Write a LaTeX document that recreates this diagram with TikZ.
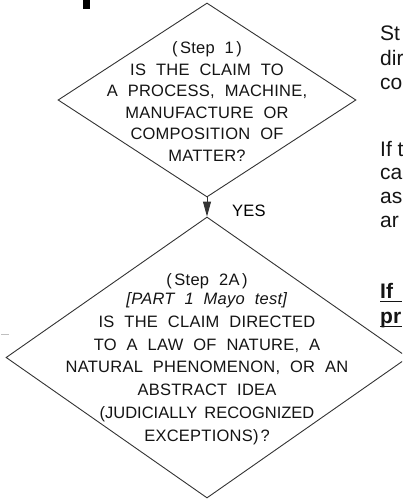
\documentclass[tikz,border=0pt]{standalone}
\usepackage{fontspec}
\setmainfont{Liberation Sans}
\newfontfamily\dfont{Liberation Sans}[LetterSpace=1.5]
\newfontfamily\dfonttight{Liberation Sans}
\usetikzlibrary{shapes.geometric,arrows.meta}
\newcommand{\dsize}[1]{\dfont\fontsize{16.5}{#1}\selectfont\spaceskip=10pt\relax}
\tikzset{
  dbox/.style={diamond, draw=black!80, line width=0.9pt, inner sep=0pt},
  dtext/.style={align=center, inner sep=0pt, anchor=north, text=black!92},
  sidetext/.style={anchor=base west, inner sep=0pt, text=black!92, font=\fontsize{21}{24}\selectfont},
  flow/.style={draw=black!80, line width=0.9pt, -{Triangle[length=15pt,width=8pt]}},
  uline/.style={line width=1.8pt, black!92},
}
\begin{document}
\begin{tikzpicture}[x=1pt,y=-1pt]
\useasboundingbox (0,0) rectangle (402,500);
\clip (0,0) rectangle (402,500);
% fragment of heading letter
\fill[black] (83,0) rectangle (90,9);
% faint smudge
\fill[black!25] (1,333.5) rectangle (9,335);
% diamonds
\node[dbox, minimum width=298pt, minimum height=194pt] (d1) at (207,100) {};
\node[dbox, minimum width=402pt, minimum height=281pt] (d2) at (207,357.5) {};
\draw[flow] (d1.south) -- (d2.north);
\node[anchor=base west, inner sep=0pt, font=\dsize{20}] (yes) at (232,216) {YES};
% diamond texts
\node[dtext, font=\dsize{21.5}] (t1) at (207,41.5)
  {(\kern2.5pt Step 1\kern2.5pt)\\IS THE CLAIM TO\\A PROCESS, MACHINE,\\MANUFACTURE OR\\COMPOSITION OF\\MATTER?};
\node[dtext, font=\dsize{22.7}] (t2) at (207,273)
  {(\kern2.5pt Step 2A\kern2.5pt)\\[-3pt]\textit{[PART 1 Mayo test]}\\IS THE CLAIM DIRECTED\\TO A LAW OF NATURE, A\\NATURAL PHENOMENON, OR AN\\ABSTRACT IDEA\\{\dfonttight\spaceskip=7pt (JUDICIALLY RECOGNIZED}\\EXCEPTIONS)\kern2pt?};
% side texts (cut off at the right edge)
\node[sidetext] (r1) at (380,41) {St};
\node[sidetext] (r2) at (380,66) {dir};
\node[sidetext] (r3) at (380,90) {co};
\node[sidetext] (r4) at (380,156) {If t};
\node[sidetext] (r5) at (380,179) {ca};
\node[sidetext] (r6) at (380,203) {as};
\node[sidetext] (r7) at (380,227) {ar};
\node[sidetext, font=\bfseries\fontsize{21}{24}\selectfont] (b1) at (380,298) {If};
\node[sidetext, font=\bfseries\fontsize{21}{24}\selectfont] (b2) at (380,323) {pr};
\draw[uline] (380,301.5) -- (402,301.5);
\draw[uline] (380,326.5) -- (402,326.5);
\end{tikzpicture}
\end{document}
